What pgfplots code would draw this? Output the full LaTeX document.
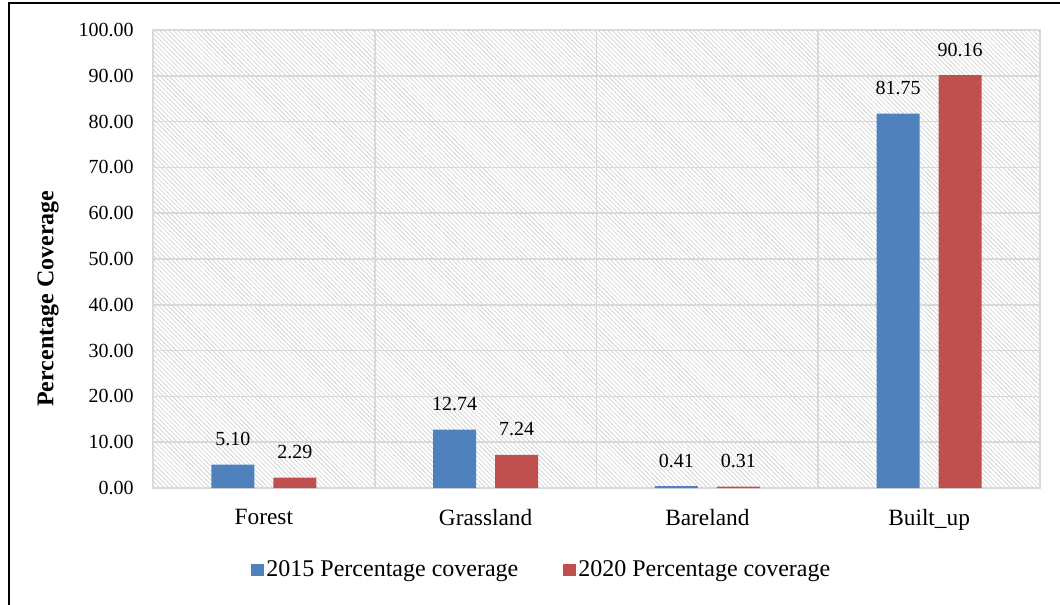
\documentclass[border=0pt]{standalone}
\usepackage{fontspec}
\setmainfont{Liberation Serif}
\usepackage{pgfplots}
\pgfplotsset{compat=1.18}
\usetikzlibrary{patterns.meta}

\definecolor{barblue}{HTML}{4F81BD}
\definecolor{barred}{HTML}{C0504D}
\definecolor{gridgray}{HTML}{D9D9D9}

\begin{document}
\begin{tikzpicture}
  \useasboundingbox (0pt,0pt) rectangle (795pt,453pt);
  % outer frame
  \draw[line width=1.6pt] (6.75pt,-8pt) -- (6.75pt,450.75pt) -- (803pt,450.75pt);

  \begin{axis}[
    at={(114.75pt,87pt)}, anchor=south west,
    scale only axis,
    width=665.25pt, height=343.5pt,
    ybar,
    bar width=32.25pt,
    xmin=-0.5, xmax=3.5,
    ymin=0, ymax=100,
    ytick distance=10,
    xtick={0,1,2,3},
    xticklabels={Forest,Grassland,Bareland,Built\_up},
    minor xtick={0.5,1.5,2.5},
    ymajorgrids, xminorgrids,
    grid style={draw=gridgray, line width=1.2pt},
    minor grid style={draw=gridgray, line width=1.2pt},
    axis line style={draw=gridgray, line width=1.2pt},
    major tick length=0pt, minor tick length=0pt,
    axis background/.style={pattern={Lines[angle=-45, distance=2.4pt, line width=0.45pt]},
      pattern color=black!20},
    /pgf/number format/assume math mode=true,
    ticklabel style={font=\fontsize{15}{17}\selectfont},
    xticklabel style={font=\fontsize{17.5}{19}\selectfont, yshift=-12.5pt},
    yticklabel style={xshift=-11pt, /pgf/number format/.cd, fixed, fixed zerofill, precision=2},
    nodes near coords,
    nodes near coords style={font=\fontsize{15}{17}\selectfont, text=black, yshift=10.5pt,
      /pgf/number format/.cd, fixed, fixed zerofill, precision=2},
    legend columns=2,
    legend style={at={(0.4386,-0.179)}, anchor=center, draw=none, fill=none,
      font=\fontsize{18}{20}\selectfont,
      /tikz/every even column/.append style={column sep=31.5pt}},
    legend image code/.code={\fill[#1] (0pt,-4.75pt) rectangle (9.5pt,4.75pt);},
  ]
    \addplot[fill=barblue, draw=none, bar shift=-23.25pt]
      coordinates {(0,5.10) (1,12.74) (2,0.41) (3,81.75)};
    \addplot[fill=barred, draw=none, bar shift=23.25pt]
      coordinates {(0,2.29) (1,7.24) (2,0.31) (3,90.16)};
    \legend{2015 Percentage coverage, 2020 Percentage coverage}
  \end{axis}

  \node[rotate=90, font=\bfseries\fontsize{18}{20}\selectfont] at (36pt,229pt) {Percentage Coverage};
\end{tikzpicture}
\end{document}
